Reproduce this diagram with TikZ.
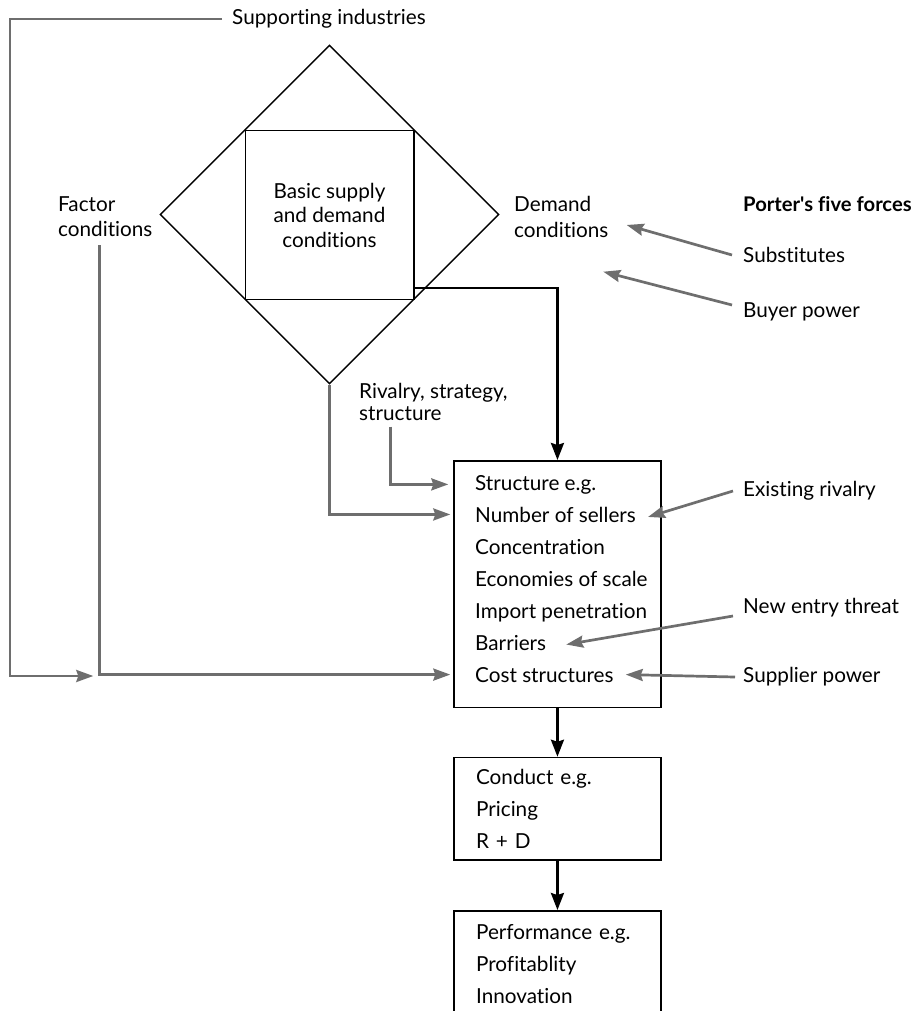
\documentclass[tikz,border=0pt]{standalone}
\usepackage{fontspec}
\setmainfont{Lato}[Ligatures={NoCommon,NoContextual}]
\usetikzlibrary{shapes.geometric,arrows.meta}

\definecolor{forcegray}{RGB}{110,110,110}
\tikzset{
  lbl/.style={inner sep=0pt, anchor=west, align=left, font=\fontsize{20.7}{25}\selectfont},
  item/.style={inner sep=0pt, anchor=base west, font=\fontsize{20.7}{24}\selectfont},
  listbox/.style={draw, line width=1.6pt, minimum width=206.7pt, inner sep=0pt},
  grayarr/.style={draw=forcegray, line width=2.7pt, -{Stealth[length=17pt,width=12pt,inset=2pt]}},
  mainarr/.style={draw=black, line width=2.5pt, -{Stealth[length=17pt,width=13pt,inset=2pt]}}
}

\begin{document}
\begin{tikzpicture}[x=1pt, y=-1pt]
\useasboundingbox (0,0) rectangle (923,1011);
\clip (0,0) rectangle (923,1011);

% diamond with the basic conditions square
\node[diamond, draw, line width=1.4pt, minimum width=339pt, minimum height=339pt, inner sep=0pt] (diamond) at (329.5,214.5) {};
\node[draw, line width=1.5pt, minimum size=168.5pt, inner sep=0pt, align=center, font=\fontsize{20.7}{24.5}\selectfont] (basic) at (329.5,215) {Basic supply\\and demand\\conditions};

\node[lbl] (support) at (232,19) {Supporting industries};
\node[lbl] (factor) at (58,216.5) {Factor\\conditions};
\node[lbl, font=\fontsize{20.7}{26}\selectfont] (demand) at (514,217) {Demand\\conditions};
\node[lbl, font=\fontsize{20.7}{22.6}\selectfont] (rivalry) at (359,402) {Rivalry, strategy,\\structure};

% Porter's forces
\node[lbl, font=\bfseries\fontsize{20.2}{24}\selectfont] (porter) at (743,204) {Porter\textquotesingle s five forces};
\node[lbl] (subst) at (743,255) {Substitutes};
\node[lbl] (buyer) at (743,312) {Buyer power};
\node[lbl] (exist) at (743,491) {Existing rivalry};
\node[lbl] (newentry) at (743,608) {New entry threat};
\node[lbl] (supplier) at (743,677) {Supplier power};

% structure box
\node[listbox, minimum height=246.7pt, anchor=north west] (struct) at (453.3,460) {};
\node[item] (structeg) at (475,490) {Structure e.g.};
\node[item] (sellers) at (475,522) {Number of sellers};
\node[item] (concen) at (475,554) {Concentration};
\node[item] (econ) at (475,586) {Economies of scale};
\node[item] (import) at (475,618) {Import penetration};
\node[item] (barriers) at (475,650) {Barriers};
\node[item] (cost) at (475,682) {Cost structures};

\node[listbox, minimum height=102.6pt, anchor=north west, text width=162.7pt, align=left, inner xsep=22pt, font=\fontsize{20.7}{31.6}\selectfont] (conduct) at (453.3,756.7) {Conduct e.g.\\Pricing\\R + D};
\node[listbox, minimum height=106.6pt, anchor=north west, text width=162.7pt, align=left, inner xsep=22pt, font=\fontsize{20.7}{31.6}\selectfont] (perf) at (453.3,910) {Performance e.g.\\Profitablity\\Innovation};

\coordinate (suppturn) at (10,676);
\coordinate (suppend) at (93.3,676);
\coordinate (factfoot) at (99.3,245);
\coordinate (rivfoot) at (390.7,426.7);
\coordinate (substtip) at (626.7,225);
\coordinate (buyertip) at (603.3,271.7);

% connectors
\draw[grayarr] ([xshift=-10pt]support.west) -| (suppturn) -- (suppend);
\draw[grayarr, shorten >=3pt] (factfoot) |- (struct.west |- cost.west);
\draw[grayarr, shorten >=3pt] (diamond.south) |- (struct.west |- sellers.west);
\draw[grayarr, shorten >=5pt] (rivfoot) |- (struct.west |- structeg.west);
\draw[grayarr] ([xshift=-11pt]subst.west) -- (substtip);
\draw[grayarr] ([xshift=-11pt,yshift=7pt]buyer.west) -- (buyertip);
\draw[grayarr] ([xshift=-10pt]exist.west) -- ([xshift=12pt,yshift=-2.5pt]sellers.east);
\draw[grayarr] ([xshift=-10pt,yshift=-8pt]newentry.west) -- ([xshift=20pt,yshift=-2pt]barriers.east);
\draw[grayarr] ([xshift=-8pt]supplier.west) -- ([xshift=12pt]cost.east);

\draw[mainarr] ([yshift=12pt]basic.south east) -| (struct.north);
\draw[mainarr] (struct.south) -- (conduct.north);
\draw[mainarr] (conduct.south) -- (perf.north);
\end{tikzpicture}
\end{document}
